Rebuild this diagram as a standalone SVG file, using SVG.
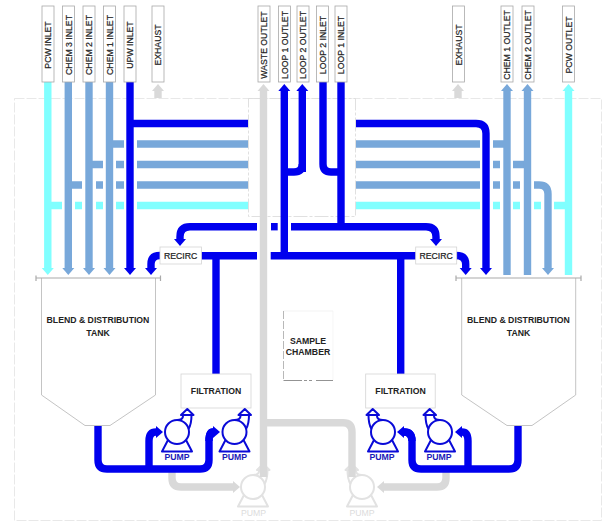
<svg xmlns="http://www.w3.org/2000/svg" width="607" height="522" viewBox="0 0 607 522" xmlns:xlink="http://www.w3.org/1999/xlink">
<style>
text{font-family:"Liberation Sans",Arial,sans-serif;font-size:8.7px;text-anchor:middle;fill:#222}
g[id^=label] text,g[id^=recirc] text{stroke:#222;stroke-width:.22}
.b{font-weight:bold}
.pl{fill:#fff;stroke:#a8a8a8;stroke-width:.8}
.p{fill:none;stroke-width:7.4}
.u{stroke:#0000ee}.c{stroke:#78a8da}.y{stroke:#80ffff}.g{stroke:#d9d9d9}
.ua{marker-end:url(#au)}.ca{marker-end:url(#ac)}.ya{marker-end:url(#ay)}.ga{marker-end:url(#ag)}
.box{fill:#fff;stroke:#d4d4d4;stroke-width:.8}
.tank{fill:#fff;stroke:#c4c4c4;stroke-width:1}
.bar{fill:none;stroke:#aaa;stroke-width:1.2}
.pg{fill:none;stroke-width:2;stroke-linejoin:round}
.pu{color:#0a0ad8}.pw{color:#e2e2e2}
.pt{fill:#1a1ab8;font-weight:bold}
</style>
<defs>
<marker id="au" markerUnits="userSpaceOnUse" markerWidth="14" markerHeight="14" refX="1" refY="7" orient="auto"><path d="M1 1L8 7L1 13Z" fill="#0000ee"/></marker>
<marker id="ac" markerUnits="userSpaceOnUse" markerWidth="14" markerHeight="14" refX="1" refY="7" orient="auto"><path d="M1 1L8 7L1 13Z" fill="#78a8da"/></marker>
<marker id="ay" markerUnits="userSpaceOnUse" markerWidth="14" markerHeight="14" refX="1" refY="7" orient="auto"><path d="M1 1L8 7L1 13Z" fill="#80ffff"/></marker>
<marker id="ag" markerUnits="userSpaceOnUse" markerWidth="14" markerHeight="14" refX="1" refY="7" orient="auto"><path d="M1 1L8 7L1 13Z" fill="#d9d9d9"/></marker>
<g id="pumpglyph" class="pg" stroke="currentColor">
<path d="M-9 8L-15 19.500H15L9 8" fill="#fff"/>
<circle cx="0" cy="0" r="12" fill="#fff"/>
<path d="M0-12C4-12 6-13 6-16V-17M11.500-3C14-7 14.500-11 14.500-17"/>
<path d="M10.300-23L4-17H16.500Z" fill="#fff"/>
</g>
</defs>
<rect id="page" width="607" height="522" fill="#fff"/>
<rect id="enclosure" x="14.500" y="98.500" width="587" height="422" fill="none" stroke="#e8e8e8" stroke-width="1" stroke-dasharray="10 2"/>
<rect id="core" x="248.500" y="98.500" width="107" height="118" fill="#fff" stroke="#d8d8d8" stroke-width=".8" stroke-dasharray="14 2 3 2"/>
<g id="pump-5" class="pw"><use xlink:href="#pumpglyph" href="#pumpglyph" transform="translate(253 487)"/><text x="253.500" y="516" style="fill:#dcdcdc">PUMP</text></g>
<g id="pump-6" class="pw"><use xlink:href="#pumpglyph" href="#pumpglyph" transform="translate(362 487) scale(-1 1)"/><text x="362" y="516" style="fill:#dcdcdc">PUMP</text></g>
<g id="connectors">
<path class="p y ya" d="M47.800 82V268"/>
<path class="p c ca" d="M68.300 82V268"/>
<path class="p c ca" d="M89 82V268"/>
<path class="p c ca" d="M109.500 82V268"/>
<path class="p u ua" d="M130 82V268"/>
<path class="p c" d="M109.500 144H124M137 144H248"/>
<path class="p c" d="M89 164.500H103M116 164.500H124M137 164.500H248"/>
<path class="p c" d="M68.300 185H82M96 185H103M116 185H124M137 185H248"/>
<path class="p y" d="M47.800 205.500H62M75 205.500H82M96 205.500H103M116 205.500H124M137 205.500H248"/>
<path class="p u" d="M130 123.500H248"/>
<path class="p u ua" d="M356 123.500H476Q486 123.500 486 133.500V268"/>
<path class="p c" d="M356 144H480M493 144H507"/>
<path class="p c" d="M356 164.500H480M493 164.500H500M513 164.500H527.500"/>
<path class="p c ca" d="M356 185H480M493 185H500M513 185H520M534 185H539Q548 185 548 194V268"/>
<path class="p y" d="M356 205.500H480M493 205.500H500M513 205.500H520M534 205.500H541M554 205.500H568.500"/>
<path class="p c ca" d="M507 275V91"/>
<path class="p c ca" d="M527.500 275V91"/>
<path class="p y ya" d="M568.500 275V91"/>
<path class="p g ga" d="M158 98V91"/>
<path class="p g ga" d="M458 98V91"/>
<path class="p u ua" d="M284.300 255V91"/>
<path class="p u ua" d="M302.300 172V91"/>
<path class="p u" d="M302.300 164Q302.300 172 294 172H284"/>
<path class="p u" d="M323 82V164Q323 172 331 172H341"/>
<path class="p u" d="M341 82V226"/>
<path class="p u ua" d="M257 226.700H190Q180 226.700 180 236.700V239"/>
<path class="p u" d="M271 226.700H277.700"/>
<path class="p u ua" d="M291 226.700H426Q436 226.700 436 236.700V239"/>
<path class="p u" d="M201 255.700H257M270.700 255.700H416"/>
<path class="p u" d="M216 255V374"/>
<path class="p u" d="M400.700 255V374"/>
<path class="p u ua" d="M160 255.500Q151 255.500 151 264V268"/>
<path class="p u ua" d="M456 255.500Q465.700 255.500 465.700 264V268"/>
<path class="p g ga" d="M263.500 477V91"/>
<path class="p g" d="M264 422.700H343Q352 422.700 352 432V477"/>
<path class="p g ga" d="M172 469V478Q172 487 181 487H233"/>
<path class="p g ga" d="M446 469V478Q446 487 437 487H384"/>
<path class="p u" d="M98 425V460Q98 469 107 469H200Q209 469 209 460V441Q209 432 213 432"/>
<path class="p u ua" d="M149 469V441Q149 432 156 432"/>
<path class="p u ua" d="M209 441Q209 432 213 432"/>
<path class="p u" d="M518 425V460Q518 469 509 469H421Q412 469 412 460V441Q412 432 404 432"/>
<path class="p u ua" d="M468 469V441Q468 432 462 432"/>
<path class="p u ua" d="M412 441Q412 432 404 432"/>
</g>
<g id="label-pcw-inlet"><rect class="pl" x="42" y="6" width="12" height="76"/><text transform="translate(51.200 45) rotate(-90)">PCW INLET</text></g>
<g id="label-chem3-inlet"><rect class="pl" x="62.500" y="6" width="12" height="76"/><text transform="translate(71.700 45) rotate(-90)">CHEM 3 INLET</text></g>
<g id="label-chem2-inlet"><rect class="pl" x="83" y="6" width="12" height="76"/><text transform="translate(92.200 45) rotate(-90)">CHEM 2 INLET</text></g>
<g id="label-chem1-inlet"><rect class="pl" x="103.500" y="6" width="12" height="76"/><text transform="translate(112.700 45) rotate(-90)">CHEM 1 INLET</text></g>
<g id="label-upw-inlet"><rect class="pl" x="124" y="6" width="12" height="76"/><text transform="translate(133.200 45) rotate(-90)">UPW INLET</text></g>
<g id="label-exhaust-l"><rect class="pl" x="152" y="6" width="12" height="76"/><text transform="translate(161.200 45) rotate(-90)">EXHAUST</text></g>
<g id="label-waste-outlet"><rect class="pl" x="258" y="6" width="12" height="76"/><text transform="translate(267.200 45) rotate(-90)">WASTE OUTLET</text></g>
<g id="label-loop1-outlet"><rect class="pl" x="278.500" y="6" width="12" height="76"/><text transform="translate(287.700 45) rotate(-90)">LOOP 1 OUTLET</text></g>
<g id="label-loop2-outlet"><rect class="pl" x="297" y="6" width="12" height="76"/><text transform="translate(306.200 45) rotate(-90)">LOOP 2 OUTLET</text></g>
<g id="label-loop2-inlet"><rect class="pl" x="316.500" y="6" width="12" height="76"/><text transform="translate(325.700 45) rotate(-90)">LOOP 2 INLET</text></g>
<g id="label-loop1-inlet"><rect class="pl" x="335" y="6" width="12" height="76"/><text transform="translate(344.200 45) rotate(-90)">LOOP 1 INLET</text></g>
<g id="label-exhaust-r"><rect class="pl" x="452.500" y="6" width="12" height="76"/><text transform="translate(461.700 45) rotate(-90)">EXHAUST</text></g>
<g id="label-chem1-outlet"><rect class="pl" x="501" y="6" width="12" height="76"/><text transform="translate(510.200 45) rotate(-90)">CHEM 1 OUTLET</text></g>
<g id="label-chem2-outlet"><rect class="pl" x="522" y="6" width="12" height="76"/><text transform="translate(531.200 45) rotate(-90)">CHEM 2 OUTLET</text></g>
<g id="label-pcw-outlet"><rect class="pl" x="562.500" y="6" width="12" height="76"/><text transform="translate(571.700 45) rotate(-90)">PCW OUTLET</text></g>
<g id="recirc-l"><rect class="box" x="160" y="247" width="41.500" height="17"/><text x="180.700" y="258.500">RECIRC</text></g>
<g id="recirc-r"><rect class="box" x="415.700" y="247" width="41" height="17"/><text x="436.200" y="258.500">RECIRC</text></g>
<g id="tank-l"><path class="tank" d="M41.500 278V395L85 425.500H110L155.500 395V278"/><path class="bar" d="M36 275.500V281M36 278H160.500M160.500 275.500V281"/><text class="b" x="98" y="323">BLEND &amp; DISTRIBUTION</text><text class="b" x="98" y="336">TANK</text></g>
<g id="tank-r"><path class="tank" d="M461.700 278V395L507 425.500H532L575.700 395V278"/><path class="bar" d="M456 275.500V281M456 278H581M581 275.500V281"/><text class="b" x="518.500" y="323">BLEND &amp; DISTRIBUTION</text><text class="b" x="518.500" y="336">TANK</text></g>
<g id="sample-chamber"><path d="M333 311H283.500" fill="none" stroke="#eee" stroke-width=".7"/><path d="M333 311V380" fill="none" stroke="#f2f2f2" stroke-width=".7"/><path d="M283.500 311V380.500" fill="none" stroke="#999" stroke-width=".7" stroke-dasharray="8 2"/><path d="M283.500 380.500H302M304 380.500H307M309 380.500H312M316 380.500H333" fill="none" stroke="#777" stroke-width=".8"/><text class="b" x="308" y="344">SAMPLE</text><text class="b" x="308" y="355">CHAMBER</text></g>
<g id="filtration-l"><rect class="box" x="181" y="374" width="70" height="34"/><text class="b" x="216" y="394">FILTRATION</text></g>
<g id="filtration-r"><rect class="box" x="365.700" y="374" width="69.500" height="34"/><text class="b" x="400.500" y="394">FILTRATION</text></g>
<g id="pump-1" class="pu"><use xlink:href="#pumpglyph" href="#pumpglyph" transform="translate(177 432)"/><text class="pt" x="177" y="460">PUMP</text></g>
<g id="pump-2" class="pu"><use xlink:href="#pumpglyph" href="#pumpglyph" transform="translate(234.500 432)"/><text class="pt" x="234.500" y="460">PUMP</text></g>
<g id="pump-3" class="pu"><use xlink:href="#pumpglyph" href="#pumpglyph" transform="translate(383 432) scale(-1 1)"/><text class="pt" x="382" y="460">PUMP</text></g>
<g id="pump-4" class="pu"><use xlink:href="#pumpglyph" href="#pumpglyph" transform="translate(440 432) scale(-1 1)"/><text class="pt" x="439" y="460">PUMP</text></g>
</svg>
